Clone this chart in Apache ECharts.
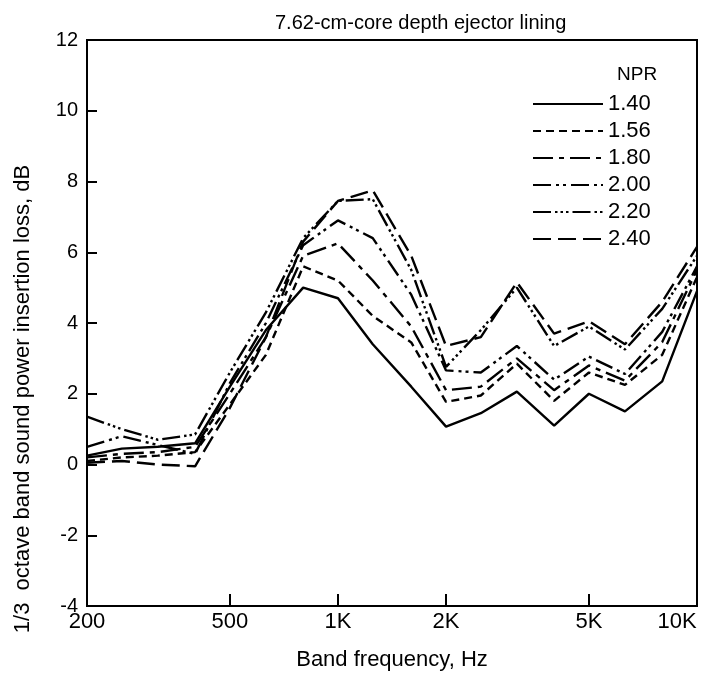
<!DOCTYPE html>
<html>
<head>
<meta charset="utf-8">
<script src="https://cdn.jsdelivr.net/npm/echarts@6/dist/echarts.min.js"></script>
<style>html,body{margin:0;padding:0;background:#fff;}#c{width:723px;height:676px;}</style>
</head>
<body>
<div id="c"></div>
<script>
var titleText = '7.62-cm-core depth ejector lining';
var xName = 'Band frequency, Hz';
var yName = '1/3  octave band sound power insertion loss, dB';
var legendTitle = 'NPR';
var freqs = [200,250,315,400,500,630,800,1000,1250,1600,2000,2500,3150,4000,5000,6300,8000,10000];
var xTickValues = [200,500,1000,2000,5000,10000];
var xTickLabels = ['200','500','1K','2K','5K','10K'];
var seriesNames = ['1.40','1.56','1.80','2.00','2.20','2.40'];
var npr140 = [0.25,0.45,0.5,0.6,2.2,3.8,5.0,4.7,3.4,2.2,1.07,1.45,2.06,1.1,2.0,1.5,2.35,4.9];
var npr156 = [0.1,0.2,0.25,0.35,1.7,3.1,5.6,5.2,4.2,3.45,1.77,1.95,2.85,1.8,2.6,2.25,3.1,5.3];
var npr180 = [0.2,0.3,0.35,0.5,2.0,3.6,5.9,6.25,5.2,3.9,2.1,2.2,3.0,2.1,2.8,2.37,3.46,5.5];
var npr200 = [0.5,0.8,0.55,0.3,2.3,4.0,6.2,6.9,6.4,4.8,2.66,2.6,3.35,2.4,3.05,2.56,3.75,5.6];
var npr220 = [1.35,1.0,0.7,0.85,2.6,4.3,6.4,7.45,7.5,5.5,2.76,3.8,5.0,3.35,3.9,3.25,4.4,5.9];
var npr240 = [0.05,0.1,0.0,-0.05,1.6,3.6,6.3,7.45,7.75,5.9,3.35,3.6,5.15,3.7,4.05,3.4,4.6,6.15];
var seriesValues = [npr140,npr156,npr180,npr200,npr220,npr240];
var dashes = ['solid',[8,5],[20,6,5,6],[18,5,3,4,3,5],[18,4,2.5,3,2.5,3,2.5,4],[18,7]];

var FONT = 'Liberation Sans';
var chart = echarts.init(document.getElementById('c'), null, {renderer:'canvas'});
var series = seriesNames.map(function(n,i){
  return {
    name: n, type: 'line', symbol: 'none', smooth: false,
    data: freqs.map(function(f,j){ return [f, seriesValues[i][j]]; }),
    lineStyle: {color:'#000', width:2.4, type: dashes[i]},
    itemStyle: {color:'#000'}
  };
});
chart.setOption({
  animation:false,
  backgroundColor:'#fff',
  title:[
    {text:titleText, left:270, top:8, textStyle:{fontFamily:FONT,fontSize:20,fontWeight:'normal',color:'#000'}},
    {text:legendTitle, left:612, top:60, textStyle:{fontFamily:FONT,fontSize:19,fontWeight:'normal',color:'#000'}}
  ],
  legend:{
    orient:'vertical', left:527, top:88, itemWidth:70, itemHeight:14, itemGap:5,
    textStyle:{fontFamily:FONT,fontSize:22,color:'#000'},
    itemStyle:{color:'transparent',opacity:0,borderWidth:0},
    data: seriesNames
  },
  grid:{left:87,right:26,top:40,bottom:68,show:true,borderColor:'#000',borderWidth:2,backgroundColor:'transparent'},
  xAxis:{
    type:'log', logBase:10, min:200, max:10000,
    name:xName, nameLocation:'middle', nameGap:43,
    nameTextStyle:{fontFamily:FONT,fontSize:22,color:'#000'},
    axisLine:{show:true,onZero:false,lineStyle:{color:'#000',width:2}},
    axisTick:{show:true,inside:true,length:12,customValues:xTickValues,lineStyle:{color:'#000',width:2}},
    axisLabel:{show:true,customValues:xTickValues,fontFamily:FONT,fontSize:22,color:'#000',margin:5,
      formatter:function(v){ var i = xTickValues.indexOf(Math.round(v)); if(i<0) return ''; return i===xTickLabels.length-1 ? '{r|'+xTickLabels[i]+'}' : xTickLabels[i]; },
      rich:{r:{fontFamily:FONT,fontSize:22,color:'#000',padding:[0,40,0,0]}}},
    splitLine:{show:false}, minorTick:{show:false}
  },
  yAxis:{
    type:'value', min:-4, max:12, interval:2,
    name:yName, nameLocation:'middle', nameGap:53,
    nameTextStyle:{fontFamily:FONT,fontSize:22,color:'#000',padding:[0,152,0,0]},
    axisLine:{show:true,onZero:false,lineStyle:{color:'#000',width:2}},
    axisTick:{show:true,inside:true,length:10,lineStyle:{color:'#000',width:2}},
    axisLabel:{fontFamily:FONT,fontSize:20,color:'#000',margin:9},
    splitLine:{show:false}
  },
  series: series
});
</script>
</body>
</html>
